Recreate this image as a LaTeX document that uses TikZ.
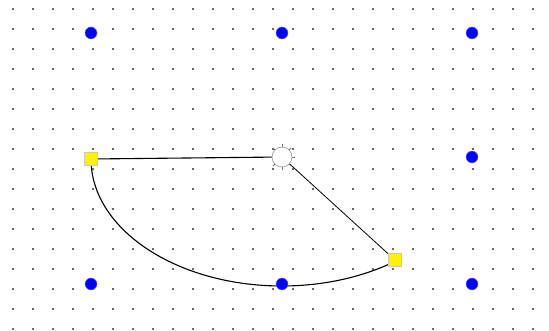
\documentclass[tikz,border=0pt]{standalone}
\usetikzlibrary{backgrounds}
\definecolor{gridc}{RGB}{50,50,50}
\definecolor{handc}{RGB}{200,200,200}
\tikzset{
  gdot/.style={circle, fill=gridc, inner sep=0pt, minimum size=2.4pt},
  bpt/.style={circle, fill=blue, draw=blue!60, inner sep=0pt, minimum size=12pt},
  hnd/.style={rectangle, fill=yellow, draw=handc, line width=1pt, inner sep=0pt,
              minimum size=13pt},
  hub/.style={circle, fill=white, draw=gray!90!black, inner sep=0pt, minimum size=20pt},
  seg/.style={black, line width=1.1pt},
}

\begin{document}
\begin{tikzpicture}[x=1pt, y=-1pt]
  \useasboundingbox (0,0) rectangle (549,331);
  % dotted grid
  \foreach \i in {0,...,26} {
    \foreach \j in {0,...,16} {
      \node[gdot] at ({13+20*\i},{9+20*\j}) {};
    }
  }
  % blue points
  \node[bpt] (p1) at (91,33)  {};
  \node[bpt] (p2) at (282,33) {};
  \node[bpt] (p3) at (472,33) {};
  \node[bpt] (p4) at (472,157) {};
  \node[bpt] (p5) at (91,284) {};
  \node[bpt] (p6) at (282,284) {};
  \node[bpt] (p7) at (472,284) {};
  % arc handles and centre
  \node[hnd] (ha) at (91,159)  {};
  \node[hnd] (hb) at (395,260) {};
  \node[hub] (ctr) at (282,157) {};
  \foreach \a in {0,45,...,315}
    \draw[gray!90!black, line width=0.9pt] (ctr.\a) -- ++(\a:2.5pt);
  \begin{pgfonlayer}{background}
    \draw[seg] (ha) -- (ctr);
    \draw[seg, line width=0.8pt] (ctr) -- (hb);
    \draw[seg] (ha.center) arc[start angle=180, end angle=306.3,
                               x radius=191pt, y radius=127pt];
  \end{pgfonlayer}
\end{tikzpicture}
\end{document}
